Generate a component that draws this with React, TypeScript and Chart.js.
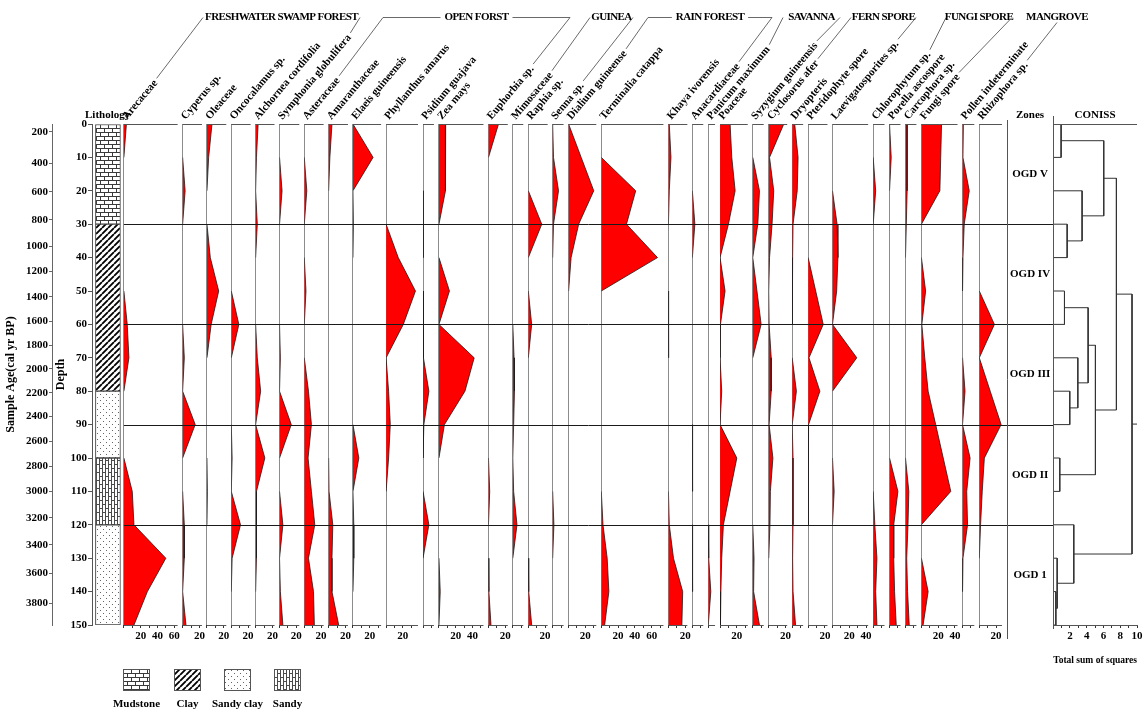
import React, { useEffect, useRef } from 'react';
import { Chart, registerables } from 'chart.js';

Chart.register(...registerables);

const FONT = '"Liberation Serif", "Times New Roman", serif';

// ---------- data ----------
const depths = [0, 10, 20, 30, 40, 50, 60, 70, 80, 90, 100, 110, 120, 130, 140, 150];

const taxonNames = [
  'Arecaceae', 'Cyperus sp.', 'Oleaceae', 'Oncocalamus sp.', 'Alchornea cordifolia',
  'Symphonia globulifera', 'Asteraceae', 'Amaranthaceae', 'Elaeis guineensis', 'Phyllanthus amarus',
  'Psidium guajava', 'Zea mays', 'Euphorbia sp.', 'Mimosaceae', 'Raphia sp.', 'Senna sp.',
  'Dialium guineense', 'Terminalia catappa', 'Khaya ivorensis', 'Anacardiaceae', 'Panicum maximum',
  'Poaceae', 'Syzygium guineensis', 'Cyclosorus afer', 'Dryopteris', 'Pteridophyte spore',
  'Laevigatosporites sp.', 'Chlorophytum sp.', 'Porella ascospore', 'Carcophora sp.', 'Fungi spore',
  'Pollen indeterminate', 'Rhizophora sp.',
];

const arecaceae = [3, 0, 0, 0, 0, 0, 4, 6, 0, 0, 0, 10, 12, 50, 28, 12];
const cyperus = [0, 0, 3, 0, 0, 0, 0, 2, 0, 15, 0, 0, 2, 2, 0, 4];
const oleaceae = [6, 2, 0, 0, 4, 14, 5, 0, 0, 0, 0, 0.5, 0, 0, 0, 0];
const oncocalamus = [0, 0, 0, 0, 0, 0, 9, 0, 0, 0, 1, 0, 11, 1, 0, 0];
const alchornea = [3, 1, 0, 2, 0, 0, 0, 2, 6, 0, 11, 1, 1, 1, 0, 0];
const symphonia = [0, 0, 3, 0, 0, 0, 0, 1, 0, 14, 0, 0, 4, 0, 1, 4];
const asteraceae = [0, 0, 3, 0, 0, 2, 0, 0, 5, 8.5, 4.5, 8.5, 12.5, 5, 11, 12];
const amaranthaceae = [4, 1.5, 0, 0, 0, 0, 0, 0, 0, 0, 0, 0.5, 5, 4, 4, 12];
const elaeis = [0, 24, 0, 0.5, 0, 0, 0, 0, 0, 0, 7, 0, 1, 1, 0, 0];
const phyllanthus = [0, 0, 0, 0, 14.5, 35, 20.5, 0, 3, 5, 3, 0, 0, 0, 0, 0];
const psidium = [0, 0, 0, 0.3, 0, 0, 1, 0, 7, 1, 0, 0, 7, 0, 0, 0];
const zea = [8, 7.5, 8, 0, 0, 12.5, 0, 42, 31, 6.5, 0, 0, 0, 0, 1.5, 0];
const euphorbia = [12, 0, 0, 0, 0, 0, 0, 0, 0, 0, 0, 1.5, 0, 0, 0.5, 3];
const mimosaceae = [0, 0, 0, 0, 0, 0, 0, 1.5, 2, 1, 0, 1, 5, 0, 0, 0];
const raphia = [0, 0, 0, 16, 0, 0, 4, 0, 0, 0, 0, 0, 0, 0, 0.5, 4];
const senna = [0, 1, 7, 1, 0, 0, 0, 0, 0, 0, 0, 0, 1.5, 0, 0, 0];
const dialium = [0, 15, 30, 12, 3, 0, 0, 0, 0, 0, 0, 0, 0, 0, 0, 0];
const terminalia = [0, 0, 41, 30, 67, 0, 0, 0, 0, 0, 0, 0, 2, 7, 9, 4];
const khaya = [1, 3, 1, 0, 0, 0, 0.3, 0, 0, 0, 0, 0, 1, 6, 17, 16];
const anacardiaceae = [0, 0, 0, 3, 0, 0, 0, 0, 0, 0, 0.5, 0, 0, 0.5, 0, 0];
const panicum = [0, 0, 0, 0, 0, 0, 0, 0, 0, 0, 0, 0, 0, 0.5, 3, 0];
const poaceae = [12, 14, 18, 10, 0, 6, 0.5, 0, 2, 0, 20, 12, 4, 2, 1, 0.5];
const syzygium = [0, 0, 8, 6, 0, 5, 10, 0, 0, 0, 0, 0, 0, 1.5, 1, 8];
const cyclosorus = [18, 1, 6, 4, 1, 0, 0.5, 3, 3, 0.5, 5, 2, 1.5, 0, 0, 0];
const dryopteris = [3, 7, 6, 1, 0.5, 0.3, 0, 0, 5, 0, 1, 1, 1, 0.5, 1, 4];
const pteridophyte = [0, 0, 0, 0, 0, 9, 18, 1, 14, 0.5, 0.3, 0.3, 0, 0, 0, 0];
const laevigatosporites = [0, 0, 0, 5.5, 6.5, 5, 0, 29, 0, 0, 0, 2, 0, 0, 0, 0];
const chlorophytum = [0, 0, 3, 0, 0, 0, 0, 0, 0, 0, 0, 0, 2, 4.5, 3, 4.5];
const porella = [0, 2, 0, 0, 0, 0, 0, 0, 0, 0, 0, 10, 5, 5, 6, 8];
const carcophora = [2, 2, 2, 1, 0, 0, 0, 0, 0, 0, 0, 4, 3, 1.5, 2.5, 4.5];
const fungiSpore = [24, 23, 22, 0, 0, 5, 0.5, 4, 8, 17, 26, 35, 0, 0, 8, 2];
const pollenIndet = [1, 0.5, 8, 2, 0.5, 0, 0, 0, 3, 0, 9, 5, 6, 0.5, 0, 0];
const rhizophora = [0, 0, 0, 0, 0, 0, 18, 0, 13, 26, 6, 3.5, 1.5, 0, 0, 0];

const taxonValues = [
  arecaceae, cyperus, oleaceae, oncocalamus, alchornea, symphonia, asteraceae, amaranthaceae,
  elaeis, phyllanthus, psidium, zea, euphorbia, mimosaceae, raphia, senna, dialium, terminalia,
  khaya, anacardiaceae, panicum, poaceae, syzygium, cyclosorus, dryopteris, pteridophyte,
  laevigatosporites, chlorophytum, porella, carcophora, fungiSpore, pollenIndet, rhizophora,
];

// x-range (%) of each taxon panel
const panelMax = [70, 29, 29, 29, 28.5, 29.5, 29, 29, 39.5, 44, 19, 59, 29, 18.5, 29, 19, 39, 80,
  28.5, 19, 14, 39, 19, 28, 19, 29, 48.5, 19.5, 19, 19, 49, 20, 33];

const ageLabels = [200, 400, 600, 800, 1000, 1200, 1400, 1600, 1800, 2000, 2200, 2400, 2600, 2800,
  3000, 3200, 3400, 3600, 3800];
const ageDepths = [2.3, 11.7, 20.3, 28.7, 36.7, 44.2, 51.7, 59.1, 66.3, 73.3, 80.5, 87.5, 95, 102.5,
  110, 117.9, 126, 134.6, 143.6];

const lithoNames = ['Mudstone', 'Clay', 'Sandy clay', 'Sandy'];
const lithoTop = [0, 30, 80, 100, 120];
const lithoBottom = [30, 80, 100, 120, 150];
const lithoKind = [0, 1, 2, 3, 2];

const zoneNames = ['OGD V', 'OGD IV', 'OGD III', 'OGD II', 'OGD 1'];
const zoneBounds = [0, 30, 60, 90, 120, 150];

// CONISS merges: node ids 0..15 are samples, 16.. are merges in order
const conissLeft = [0, 3, 2, 16, 5, 8, 7, 20, 10, 23, 19, 14, 13, 12, 26];
const conissRight = [1, 4, 17, 18, 6, 9, 21, 22, 11, 24, 25, 15, 27, 28, 29];
const conissHeight = [0.95, 1.67, 3.45, 6.03, 1.35, 1.98, 2.94, 4.17, 0.79, 5.04, 7.54, 0.32, 0.48, 2.46, 9.4];
const conissRootEnd = 10;

const groupNames = ['FRESHWATER SWAMP FOREST', 'OPEN FORST', 'GUINEA', 'RAIN FOREST', 'SAVANNA',
  'FERN SPORE', 'FUNGI SPORE', 'MANGROVE'];
const groupFirst = [0, 6, 13, 16, 20, 23, 27, -1];
const groupLast = [5, 12, 15, 19, 22, 26, 30, 32];

// header layout (pixels)
const headerSpans = [[203, 360], [383, 570], [590, 633], [648, 772], [783, 840], [851, 916], [946, 1012], [1057, 1057]];

// ---------- helpers ----------
function makePattern(kind: number): CanvasPattern {
  const c = document.createElement('canvas');
  const g = c.getContext('2d') as CanvasRenderingContext2D;
  if (kind === 0) {
    c.width = 8; c.height = 8;
    g.fillStyle = '#fff'; g.fillRect(0, 0, 8, 8);
    g.fillStyle = '#3a3a3a';
    g.fillRect(0, 0, 8, 1); g.fillRect(0, 4, 8, 1);
    g.fillRect(0, 0, 1, 4); g.fillRect(4, 4, 1, 4);
  } else if (kind === 1) {
    c.width = 6; c.height = 6;
    g.fillStyle = '#fff'; g.fillRect(0, 0, 6, 6);
    g.strokeStyle = '#000'; g.lineWidth = 1.8;
    g.beginPath();
    for (const o of [-6, 0, 6]) { g.moveTo(o, 6); g.lineTo(o + 6, 0); }
    g.stroke();
  } else if (kind === 2) {
    c.width = 6; c.height = 6;
    g.fillStyle = '#fff'; g.fillRect(0, 0, 6, 6);
    g.fillStyle = '#666';
    g.fillRect(1, 1, 1, 1); g.fillRect(4, 4, 1, 1);
  } else {
    c.width = 6; c.height = 8;
    g.fillStyle = '#fff'; g.fillRect(0, 0, 6, 8);
    g.fillStyle = '#4a4a4a';
    g.fillRect(0, 0, 1, 8); g.fillRect(3, 0, 1, 8);
    g.fillRect(0, 0, 3, 1); g.fillRect(3, 4, 3, 1);
  }
  return g.createPattern(c, 'repeat') as CanvasPattern;
}

function conissPoints() {
  const posY: number[] = depths.slice();
  const posX: number[] = depths.map(() => 0);
  const pts: any[] = [];
  conissLeft.forEach((a, k) => {
    const b = conissRight[k];
    const h = conissHeight[k];
    pts.push({ x: posX[a], y: posY[a] }, { x: h, y: posY[a] }, { x: h, y: posY[b] }, { x: posX[b], y: posY[b] }, { x: null, y: null });
    posY.push((posY[a] + posY[b]) / 2);
    posX.push(h);
  });
  const r = posY.length - 1;
  pts.push({ x: posX[r], y: posY[r] }, { x: conissRootEnd, y: posY[r] });
  return pts;
}

const ANG = (50 * Math.PI) / 180;
const LABEL_FONT = `bold 11px ${FONT}`;

function labelAnchor(chart: any, i: number) {
  const s = chart.scales['p' + i];
  return { x: s.left + 3, y: chart.chartArea.top - 4 };
}

function labelEnd(chart: any, i: number) {
  const ctx = chart.ctx;
  ctx.font = LABEL_FONT;
  const w = ctx.measureText(taxonNames[i]).width + 3;
  const a = labelAnchor(chart, i);
  return { x: a.x + w * Math.cos(ANG) - 4 * Math.sin(ANG), y: a.y - w * Math.sin(ANG) - 4 * Math.cos(ANG) };
}

const seg = (ctx: CanvasRenderingContext2D, x1: number, y1: number, x2: number, y2: number) => {
  ctx.beginPath(); ctx.moveTo(x1, y1); ctx.lineTo(x2, y2); ctx.stroke();
};

const decor = {
  id: 'decor',
  afterDatasetsDraw(chart: any) {
    const { ctx, scales } = chart;
    const ys = scales.depth;
    ctx.save();
    ctx.strokeStyle = '#1a1a1a';
    ctx.lineWidth = 1;
    const xa = scales.p0.left;
    const xb = scales.coniss.left;
    for (let k = 1; k < zoneBounds.length - 1; k++) {
      const y = Math.round(ys.getPixelForValue(zoneBounds[k])) + 0.5;
      seg(ctx, xa, y, xb, y);
    }
    ctx.restore();
  },
  afterDraw(chart: any) {
    const { ctx, chartArea: area, scales } = chart;
    const ys = scales.depth;
    ctx.save();
    // panel top / bottom lines
    ctx.strokeStyle = '#555';
    ctx.lineWidth = 1;
    const top = Math.round(area.top) + 0.5;
    const bot = Math.round(area.bottom) + 0.5;
    taxonNames.forEach((_, i) => {
      const s = scales['p' + i];
      seg(ctx, s.left, top, s.right - 5, top);
      seg(ctx, s.left, bot, s.right - 5, bot);
    });
    const cs = scales.coniss;
    seg(ctx, cs.left, top, cs.right, top);
    const zs = scales.zones;
    const zx = Math.round(zs.left) + 0.5;
    seg(ctx, zx, area.top - 4, zx, area.bottom + 14);
    const cx = Math.round(cs.left) + 0.5;
    seg(ctx, cx, area.top - 8, cx, area.bottom + 4);

    // taxon labels
    ctx.fillStyle = '#000';
    ctx.font = LABEL_FONT;
    ctx.textAlign = 'left';
    ctx.textBaseline = 'alphabetic';
    taxonNames.forEach((name, i) => {
      const a = labelAnchor(chart, i);
      ctx.save();
      ctx.translate(a.x, a.y);
      ctx.rotate(-ANG);
      ctx.fillText(name, 0, 0);
      ctx.restore();
    });

    // group headers
    ctx.strokeStyle = '#444';
    ctx.lineWidth = 0.8;
    const hy = 17.5;
    groupNames.forEach((g, k) => {
      const [l, r] = headerSpans[k];
      ctx.font = `bold 11px ${FONT}`;
      (ctx as any).letterSpacing = '-0.6px';
      const w = ctx.measureText(g).width;
      const c = (l + r) / 2;
      ctx.textAlign = 'center';
      ctx.textBaseline = 'middle';
      ctx.fillText(g, c, hy);
      (ctx as any).letterSpacing = '0px';
      if (c - w / 2 - 4 > l + 2) seg(ctx, l, hy, c - w / 2 - 4, hy);
      if (c + w / 2 + 4 < r - 2) seg(ctx, c + w / 2 + 4, hy, r, hy);
      const inside = (x: number) => x > c - w / 2 + 2 && x < c + w / 2 - 2;
      if (groupFirst[k] >= 0) {
        const e = labelEnd(chart, groupFirst[k]);
        seg(ctx, l, inside(l) ? hy + 5 : hy, e.x, e.y);
      }
      if (groupLast[k] >= 0) {
        const e = labelEnd(chart, groupLast[k]);
        seg(ctx, r, inside(r) ? hy + 5 : hy, e.x, e.y);
      }
    });

    // column headers
    ctx.font = `bold 11px ${FONT}`;
    ctx.textBaseline = 'alphabetic';
    ctx.textAlign = 'left';
    ctx.fillText('Lithology', 85, area.top - 6);
    ctx.textAlign = 'center';
    ctx.fillText('Zones', (zs.left + zs.right) / 2, area.top - 6);
    ctx.fillText('CONISS', (cs.left + cs.right) / 2, area.top - 6);

    // zone names
    ctx.textBaseline = 'middle';
    zoneNames.forEach((z, k) => {
      const y = ys.getPixelForValue((zoneBounds[k] + zoneBounds[k + 1]) / 2);
      ctx.fillText(z, (zs.left + zs.right) / 2, y);
    });
    ctx.restore();
  },
};

function panelScale(i: number) {
  const max = panelMax[i];
  return {
    type: 'linear', axis: 'x', position: 'bottom', stack: 'panels', stackWeight: max,
    min: 0, max,
    border: { display: false },
    grid: {
      drawOnChartArea: true,
      color: (c: any) => (c.tick && c.tick.value === 0 ? '#8c8c8c' : 'rgba(0,0,0,0)'),
      tickColor: '#333', tickLength: 3, lineWidth: 1,
    },
    ticks: {
      autoSkip: false, maxRotation: 0, minRotation: 0, padding: 2,
      font: { size: 11, weight: 'bold', family: FONT }, color: '#000',
      callback: (v: number) => (v > 0 && v % 20 === 0 ? String(v) : ''),
    },
    afterBuildTicks: (s: any) => {
      const t: any[] = [];
      for (let v = 0; v <= max - 6; v += 10) t.push({ value: v });
      s.ticks = t;
    },
  };
}

function Swatch({ kind }: { kind: number }) {
  const r = useRef<HTMLCanvasElement>(null);
  useEffect(() => {
    const c = r.current as HTMLCanvasElement;
    const g = c.getContext('2d') as CanvasRenderingContext2D;
    g.fillStyle = makePattern(kind);
    g.fillRect(0, 0, c.width, c.height);
    g.strokeStyle = '#555';
    g.lineWidth = 1;
    g.strokeRect(0.5, 0.5, c.width - 1, c.height - 1);
  }, [kind]);
  return <canvas ref={r} width={27} height={22} style={{ display: 'block' }} />;
}

export default function App() {
  const ref = useRef<HTMLCanvasElement>(null);
  useEffect(() => {
    const canvas = ref.current as HTMLCanvasElement;
    const patterns = [0, 1, 2, 3].map(makePattern);
    const tickFont = { size: 11, weight: 'bold', family: FONT };
    const scales: any = {
      age: {
        type: 'linear', axis: 'y', position: 'left', reverse: true, min: 0, max: 150, weight: 1,
        border: { display: true, color: '#666' },
        grid: { drawOnChartArea: false, tickLength: 3, tickColor: '#666' },
        ticks: { autoSkip: false, padding: 1, font: tickFont, color: '#000', callback: (_v: any, i: number) => String(ageLabels[i]) },
        afterBuildTicks: (s: any) => { s.ticks = ageDepths.map((v) => ({ value: v })); },
        title: { display: true, text: 'Sample Age(cal yr BP)', font: { size: 12, weight: 'bold', family: FONT }, color: '#000', padding: { top: 0, bottom: 0 } },
        afterFit: (s: any) => { s.width = 48; },
      },
      depth: {
        type: 'linear', axis: 'y', position: 'left', reverse: true, min: 0, max: 150, weight: 0,
        border: { display: true, color: '#555' },
        grid: { drawOnChartArea: false, tickLength: 4, tickColor: '#555' },
        ticks: { stepSize: 10, autoSkip: false, padding: 1, font: tickFont, color: '#000' },
        title: { display: true, text: 'Depth', font: { size: 12, weight: 'bold', family: FONT }, color: '#000', padding: { top: 2, bottom: 0 } },
        afterFit: (s: any) => { s.width = 40; },
      },
      litho: { type: 'linear', axis: 'x', position: 'bottom', stack: 'panels', stackWeight: 38, min: 0, max: 1, display: false },
    };
    taxonNames.forEach((_, i) => { scales['p' + i] = panelScale(i); });
    scales.zones = { type: 'linear', axis: 'x', position: 'bottom', stack: 'panels', stackWeight: 55, min: 0, max: 1, display: false };
    scales.coniss = {
      type: 'linear', axis: 'x', position: 'bottom', stack: 'panels', stackWeight: 100, min: 0, max: 10,
      border: { display: true, color: '#555' },
      grid: { color: (c: any) => (c.tick && c.tick.value === 0 ? '#777' : 'rgba(0,0,0,0)'), tickColor: '#333', tickLength: 3 },
      ticks: { autoSkip: false, maxRotation: 0, minRotation: 0, padding: 2, font: tickFont, color: '#000', callback: (v: number) => (v > 0 && v % 2 === 0 ? String(v) : '') },
      afterBuildTicks: (s: any) => { const t: any[] = []; for (let v = 0; v <= 10; v++) t.push({ value: v }); s.ticks = t; },
      title: { display: true, text: 'Total sum of squares', font: { size: 11, weight: 'bold', family: FONT }, color: '#000', padding: { top: 2, bottom: 4 } },
      afterFit: (s: any) => { s.height = 46; },
    };

    const datasets: any[] = [];
    datasets.push({
      type: 'bar', indexAxis: 'x', xAxisID: 'litho', yAxisID: 'depth',
      data: lithoTop.map((t, i) => ({ x: 0.5, y: [t, lithoBottom[i]] })),
      backgroundColor: lithoKind.map((k) => patterns[k]),
      borderColor: '#444', borderWidth: 1, borderSkipped: false, barThickness: 25, grouped: false,
    });
    taxonValues.forEach((vals, i) => {
      datasets.push({
        type: 'line', indexAxis: 'y', xAxisID: 'p' + i, yAxisID: 'depth',
        data: depths.map((d, j) => ({ x: vals[j], y: d })),
        fill: 'origin', backgroundColor: '#ff0000', borderColor: '#1a1a1a', borderWidth: 0.8,
        pointRadius: 0, tension: 0,
        segment: {
          borderColor: (c: any) => (c.p0.parsed.x === 0 && c.p1.parsed.x === 0 ? 'rgba(0,0,0,0)' : '#1a1a1a'),
        },
      });
    });
    datasets.push({
      type: 'line', indexAxis: 'y', xAxisID: 'coniss', yAxisID: 'depth',
      data: conissPoints(), fill: false, borderColor: '#333', borderWidth: 1, pointRadius: 0, tension: 0, spanGaps: false,
    });

    const chart = new Chart(canvas, {
      type: 'line',
      data: { datasets },
      options: {
        responsive: false,
        animation: false,
        indexAxis: 'y',
        events: [],
        layout: { padding: { left: 4, right: 5, top: 124, bottom: 42 } },
        plugins: { legend: { display: false }, tooltip: { enabled: false } },
        scales,
      } as any,
      plugins: [decor],
    });
    return () => chart.destroy();
  }, []);

  const legendLeft = [123, 174, 224, 274];
  return (
    <div style={{ position: 'absolute', left: 0, top: 0, width: 1145, height: 713, background: '#fff', overflow: 'hidden' }}>
      <canvas ref={ref} width={1145} height={713} style={{ display: 'block' }} />
      {lithoNames.map((n, k) => (
        <div key={n} style={{ position: 'absolute', left: legendLeft[k] - 20, top: 669, width: 67, textAlign: 'center' }}>
          <div style={{ width: 27, margin: '0 auto' }}><Swatch kind={k} /></div>
          <div style={{ font: `bold 11px ${FONT}`, marginTop: 6, whiteSpace: 'nowrap', color: '#000' }}>{n}</div>
        </div>
      ))}
    </div>
  );
}
